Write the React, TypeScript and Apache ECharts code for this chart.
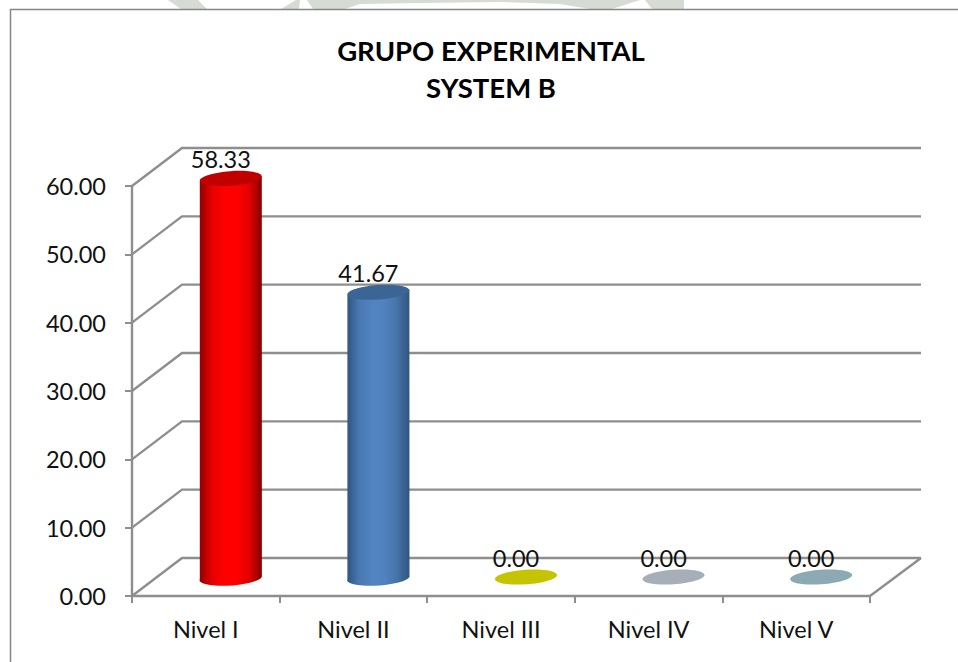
import React, { useEffect, useRef } from "react";
import * as echarts from "echarts";

const categories = ["Nivel I", "Nivel II", "Nivel III", "Nivel IV", "Nivel V"];
const values = [58.33, 41.67, 0, 0, 0];
const yTicks = [0, 10, 20, 30, 40, 50, 60];
const titleLines = ["GRUPO EXPERIMENTAL", "SYSTEM B"];

const sideColors = [
  ["#8f0000", "#e80000", "#ff0000", "#ff0000", "#e00000", "#860000"],
  ["#2f5580", "#4a79b2", "#5284c2", "#5082bf", "#4673a8", "#30547e"],
  ["#c4c400", "#c4c400", "#c4c400", "#c4c400", "#c4c400", "#c4c400"],
  ["#a6aeb7", "#a6aeb7", "#a6aeb7", "#a6aeb7", "#a6aeb7", "#a6aeb7"],
  ["#8caab3", "#8caab3", "#8caab3", "#8caab3", "#8caab3", "#8caab3"],
];
const topColors = ["#c00000", "#3b6594", "#c4c400", "#a6aeb7", "#8caab3"];
const stops = [0, 0.2, 0.42, 0.6, 0.8, 1];

const GRID = { left: 132, right: 88, top: 186, bottom: 66 };
const DEPTH_X = 50;
const DEPTH_Y = 38;
const R_X = 31;
const R_Y = 7.3;
const TILT = 2.2;
const RX_TRUE = Math.hypot(R_X, TILT);
const ANGLE = Math.atan2(TILT, R_X);
const ANGLE_DEG = (-ANGLE * 180) / Math.PI;
const LINE = "#8e8e8e";
const FONT = "Lato, Carlito, sans-serif";
const WM = "#d6dcd4";

const watermark = [
  [[168, 0], [198, 0], [207, 9], [181, 9]],
  [[281, 9], [296, 0], [300, 0], [299, 9]],
  [[307, 0], [640, 0], [612, 9], [590, 9], [560, 4], [500, 2], [420, 3], [360, 4], [345, 9], [313, 9]],
  [[645, 0], [684, 0], [684, 9], [652, 9]],
];

function renderWall(params: any, api: any) {
  const cs = params.coordSys;
  const y = api.coord([0, api.value(1)])[1];
  const v = api.value(1);
  const x0 = cs.x;
  const x1 = cs.x + cs.width;
  const style = { stroke: LINE, lineWidth: 2.4, fill: "none" };
  const children: any[] = [
    { type: "polyline", shape: { points: [[x0, y], [x0 + DEPTH_X, y - DEPTH_Y], [x1 + DEPTH_X + 1, y - DEPTH_Y]] }, style },
  ];
  if (v === yTicks[0]) {
    children.push({ type: "line", shape: { x1, y1: y, x2: x1 + DEPTH_X + 1, y2: y - DEPTH_Y }, style });
  }
  return { type: "group", children };
}

function renderCylinder(params: any, api: any) {
  const i = params.dataIndex;
  const v = api.value(1);
  const [fx, fy0] = api.coord([api.value(0), 0]);
  const ftop = api.coord([api.value(0), v])[1];
  const cx = fx + DEPTH_X / 2;
  const yb = fy0 - DEPTH_Y / 2;
  const yt = ftop - DEPTH_Y / 2;
  const children: any[] = [];
  if (v > 0) {
    const d = `M ${cx - R_X} ${yt + TILT} L ${cx - R_X} ${yb + TILT} A ${RX_TRUE} ${R_Y} ${ANGLE_DEG} 0 0 ${cx + R_X} ${yb - TILT} L ${cx + R_X} ${yt - TILT} Z`;
    children.push({
      type: "path",
      shape: { pathData: d },
      style: {
        fill: new echarts.graphic.LinearGradient(
          0, 0, 1, 0,
          sideColors[i].map((color, k) => ({ offset: stops[k], color }))
        ),
      },
    });
  }
  children.push({
    type: "ellipse",
    x: cx,
    y: yt,
    rotation: ANGLE,
    shape: { cx: 0, cy: 0, rx: RX_TRUE, ry: R_Y },
    style: { fill: topColors[i] },
  });
  children.push({
    type: "text",
    x: cx - 10,
    y: yt - 19.5,
    style: {
      text: v.toFixed(2),
      fill: "#111",
      font: `23.5px ${FONT}`,
      align: "center",
      verticalAlign: "middle",
    },
  });
  return { type: "group", children };
}

export default function App() {
  const ref = useRef<HTMLDivElement>(null);
  useEffect(() => {
    document.body.style.margin = "0";
    const chart = echarts.init(ref.current!, null, { renderer: "svg" });
    chart.setOption({
      animation: false,
      backgroundColor: "#ffffff",
      title: {
        text: titleLines.join("\n"),
        left: 486,
        top: 27,
        textAlign: "center",
        textStyle: { fontFamily: FONT, fontSize: 27.5, fontWeight: "bold", color: "#000", lineHeight: 37 },
      },
      graphic: [
        ...watermark.map((points) => ({
          type: "polygon",
          silent: true,
          shape: { points },
          style: { fill: WM },
        })),
        {
          type: "rect",
          silent: true,
          shape: { x: 10.5, y: 9.5, width: 1000, height: 700 },
          style: { fill: "none", stroke: "#868686", lineWidth: 1.5 },
        },
      ],
      grid: GRID,
      xAxis: {
        type: "category",
        data: categories,
        axisLine: { lineStyle: { color: LINE, width: 2.4 } },
        axisTick: { show: true, length: 7, lineStyle: { color: LINE, width: 2 } },
        axisLabel: { fontFamily: FONT, fontSize: 23.5, color: "#111", margin: 21 },
      },
      yAxis: {
        type: "value",
        min: 0,
        max: 60,
        interval: 10,
        splitLine: { show: false },
        axisLine: { show: true, lineStyle: { color: LINE, width: 2.4 } },
        axisTick: { show: true, length: 7, lineStyle: { color: LINE, width: 2 } },
        axisLabel: {
          fontFamily: FONT,
          fontSize: 23.5,
          color: "#111",
          margin: 26,
          padding: [2, 0, 0, 0],
          formatter: (v: number) => v.toFixed(2),
        },
      },
      series: [
        {
          type: "custom",
          z: 1,
          clip: false,
          silent: true,
          renderItem: renderWall,
          data: yTicks.map((v) => [0, v]),
          encode: { x: 0, y: 1 },
        },
        {
          type: "custom",
          z: 3,
          clip: false,
          renderItem: renderCylinder,
          data: values.map((v, i) => [i, v]),
          encode: { x: 0, y: 1 },
        },
      ],
    });
    return () => chart.dispose();
  }, []);
  return <div ref={ref} style={{ width: 958, height: 662 }} />;
}
